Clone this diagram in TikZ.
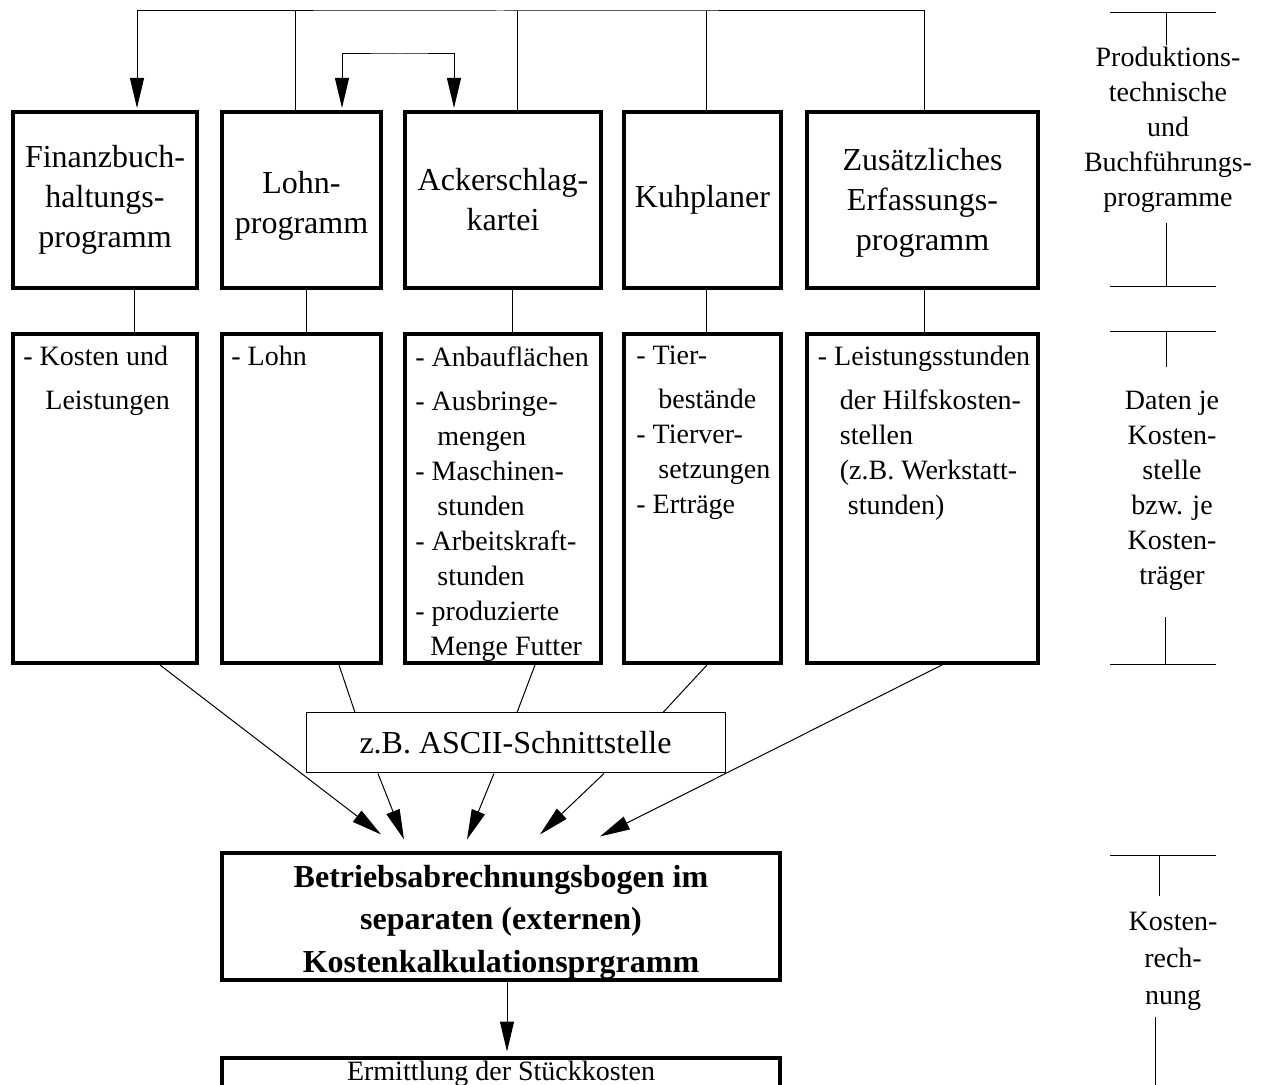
\documentclass[tikz,border=0pt]{standalone}
\usepackage{fontspec}
\setmainfont{Liberation Serif}
\usetikzlibrary{arrows.meta,positioning}

\tikzset{
  progbox/.style={draw, line width=2pt, align=center, inner sep=0pt,
    minimum height=88pt, font=\fontsize{16}{20}\selectfont},
  databox/.style={draw, line width=2pt, inner sep=0pt, minimum height=164.5pt},
  datatext/.style={anchor=north west, align=left, inner sep=0pt,
    font=\fontsize{14}{17.5}\selectfont},
  sidetext/.style={align=center, inner sep=0pt, font=\fontsize{14}{17.5}\selectfont},
  link/.style={line width=0.5pt},
  arr/.style={link, -{Triangle[length=15pt,width=7pt]}},
  arrboth/.style={link, {Triangle[length=15pt,width=7pt]}-{Triangle[length=15pt,width=7pt]}},
}

\begin{document}
\begin{tikzpicture}[x=0.5pt, y=-0.5pt]
    % Rahmen
    \useasboundingbox (0,0) rectangle (1271,1085);

    % Programme
    \node[progbox, minimum width=92pt] (fibu) at (105,200) {Finanzbuch-\\haltungs-\\programm};
    \node[progbox, minimum width=79.5pt] (lohn) at (301.5,200) {\rule{0pt}{17pt}Lohn-\\programm};
    \node[progbox, minimum width=98pt] (acker) at (503,200) {Ackerschlag-\\kartei};
    \node[progbox, minimum width=78.5pt] (kuh) at (702.5,200) {Kuhplaner};
    \node[progbox, minimum width=115.5pt] (zusatz) at (922.5,200) {\rule{0pt}{14pt}Zusätzliches\\Erfassungs-\\programm};

    % Daten je Programm
    \node[databox, minimum width=92pt] (fibu-d) at (105,498.5) {};
    \node[databox, minimum width=79.5pt] (lohn-d) at (301.5,498.5) {};
    \node[databox, minimum width=98pt] (acker-d) at (503,498.5) {};
    \node[databox, minimum width=78.5pt] (kuh-d) at (702.5,498.5) {};
    \node[databox, minimum width=115.5pt] (zusatz-d) at (922.5,498.5) {};

    \node[datatext] (fibu-t) at ([shift={(12,14)}]fibu-d.north west)
        {- Kosten und\\[4.5pt]\hspace*{11pt}Leistungen};
    \node[datatext] (lohn-t) at ([shift={(11,14)}]lohn-d.north west) {- Lohn};
    \node[datatext] (acker-t) at ([shift={(12,14)}]acker-d.north west)
        {- Anbauflächen\\[4.5pt]- Ausbringe-\\\hspace*{11pt}mengen\\- Maschinen-\\\hspace*{11pt}stunden\\
         - Arbeitskraft-\\\hspace*{11pt}stunden\\- produzierte\\\hspace*{7.5pt}Menge Futter};
    \node[datatext] (kuh-t) at ([shift={(14,14)}]kuh-d.north west)
        {- Tier-\\[4.5pt]\hspace*{11pt}bestände\\- Tierver-\\\hspace*{11pt}setzungen\\- Erträge};
    \node[datatext] (zusatz-t) at ([shift={(12.5,14)}]zusatz-d.north west)
        {- Leistungsstunden\\[4.5pt]\hspace*{11pt}der Hilfskosten-\\\hspace*{11pt}stellen\\
         \hspace*{11pt}(z.B. Werkstatt-\\\hspace*{15pt}stunden)};

    % Programm -> Daten
    \foreach \n/\dx in {fibu/14.5pt, lohn/2.5pt, acker/4.5pt, kuh/2pt, zusatz/0.75pt} {
        \draw[link] ([xshift=\dx]\n.south) -- ([xshift=\dx]\n-d.north);
    }

    % Datenfluss oben
    \coordinate (bus) at (500,11);
    \coordinate (swap) at (400,54);
    \draw[arr] ([xshift=0.75pt]zusatz.north) |- (bus) -| ([xshift=16pt,yshift=1pt]fibu.north);
    \foreach \n/\dx in {lohn/-3pt, acker/7.25pt, kuh/2pt} {
        \draw[link] ([xshift=\dx]\n.north) -- ([xshift=\dx]\n.north |- bus);
    }
    \draw[arrboth] ([xshift=20.25pt,yshift=1pt]lohn.north) |- (swap) -| ([xshift=-24.5pt,yshift=1pt]acker.north);

    % Schnittstelle und Kostenrechnung
    \node[draw, link, minimum width=209.5pt, minimum height=30pt, inner sep=0pt,
          font=\fontsize{16}{20}\selectfont] (ascii) at (515.5,743) {z.B. ASCII-Schnittstelle};
    \node[progbox, font=\bfseries\fontsize{16}{21.25}\selectfont, minimum width=279pt,
          minimum height=61.5pt] (bab) at (501,916.5)
        {\rule{0pt}{17pt}Betriebsabrechnungsbogen im\\separaten (externen)\\Kostenkalkulationsprgramm};
    \node[draw, line width=2pt, minimum width=279pt, inner ysep=2pt, text height=9.5pt,
          text depth=30pt, font=\fontsize{14}{17.5}\selectfont, below=37pt of bab] (stueck)
        {Ermittlung der Stückkosten};

    \draw[link] ([xshift=18.75pt]lohn-d.south) -- ([xshift=-80.25pt]ascii.north);
    \draw[link] ([xshift=16pt]acker-d.south) -- ([xshift=0.75pt]ascii.north);
    \draw[link] ([xshift=2.25pt]kuh-d.south) -- ([xshift=73.75pt]ascii.north);
    \draw[arr] ([xshift=27.5pt]fibu-d.south) -- ([xshift=-60pt,yshift=8.5pt]bab.north);
    \draw[arr] ([xshift=-68.75pt]ascii.south) -- ([xshift=-48.5pt,yshift=6pt]bab.north);
    \draw[arr] ([xshift=-10.75pt]ascii.south) -- ([xshift=-17pt,yshift=6pt]bab.north);
    \draw[arr] ([xshift=44.25pt]ascii.south) -- ([xshift=19.5pt,yshift=8.5pt]bab.north);
    \draw[arr] ([xshift=9.75pt]zusatz-d.south) -- ([xshift=49.5pt,yshift=7.5pt]bab.north);
    \draw[arr] ([xshift=3pt]bab.south) -- ([xshift=3pt,yshift=2pt]stueck.north);

    % Ebenen rechts
    \node[sidetext] (prod) at (1168,130) {Produktions-\\technische\\und\\Buchführungs-\\programme};
    \node[sidetext] (daten) at (1172,491) {Daten je\\Kosten-\\stelle\\bzw. je\\Kosten-\\träger};
    \node[sidetext, font=\fontsize{14}{18.5}\selectfont] (kr) at (1173,961) {Kosten-\\rech-\\nung};

    \foreach \y in {13, 287, 332, 665, 856} {
        \draw[link] (1110,\y) -- (1216,\y);
    }
    \foreach \x/\ya/\yb in {1166/13/45, 1166/223/287, 1166/332/367, 1165/617/665, 1159/856/896, 1155/1017/1085} {
        \draw[link] (\x,\ya) -- (\x,\yb);
    }
\end{tikzpicture}
\end{document}
